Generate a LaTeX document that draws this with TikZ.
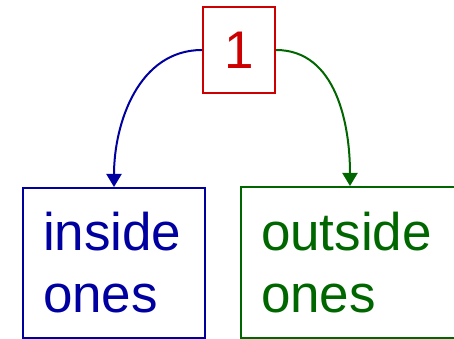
\documentclass[tikz,border=0pt]{standalone}
\usepackage{fontspec}
\setmainfont{Liberation Sans}
\usetikzlibrary{positioning,arrows.meta}
\definecolor{chRed}{RGB}{204,0,0}
\definecolor{chBlue}{RGB}{0,0,160}
\definecolor{chGreen}{RGB}{0,102,0}
\tikzset{
  chbox/.style={draw, line width=2pt, inner sep=0pt, font=\fontsize{53}{62}\selectfont},
  charrow/.style={line width=2pt, -{Triangle[length=13pt,width=15pt]}}
}
\begin{document}
\begin{tikzpicture}[x=1pt,y=1pt]
  \useasboundingbox (0,0) rectangle (454,339);
  % root
  \node[chbox, chRed, minimum width=72pt, minimum height=86pt] (one) at (239,289) {1};
  % children
  \node[chbox, chBlue, minimum width=182pt, minimum height=150pt,
        text width=142pt, align=left] (inside) at (114,76) {inside\\ones};
  \node[chbox, chGreen, minimum width=218pt, minimum height=151pt,
        text width=178pt, align=left] (outside) at (350,76.5) {outside\\ones};
  % links
  \draw[charrow, chBlue] (one.west) to[out=180, in=90] (inside.north);
  \draw[charrow, chGreen] (one.east) to[out=0, in=90] (outside.north);
\end{tikzpicture}
\end{document}
